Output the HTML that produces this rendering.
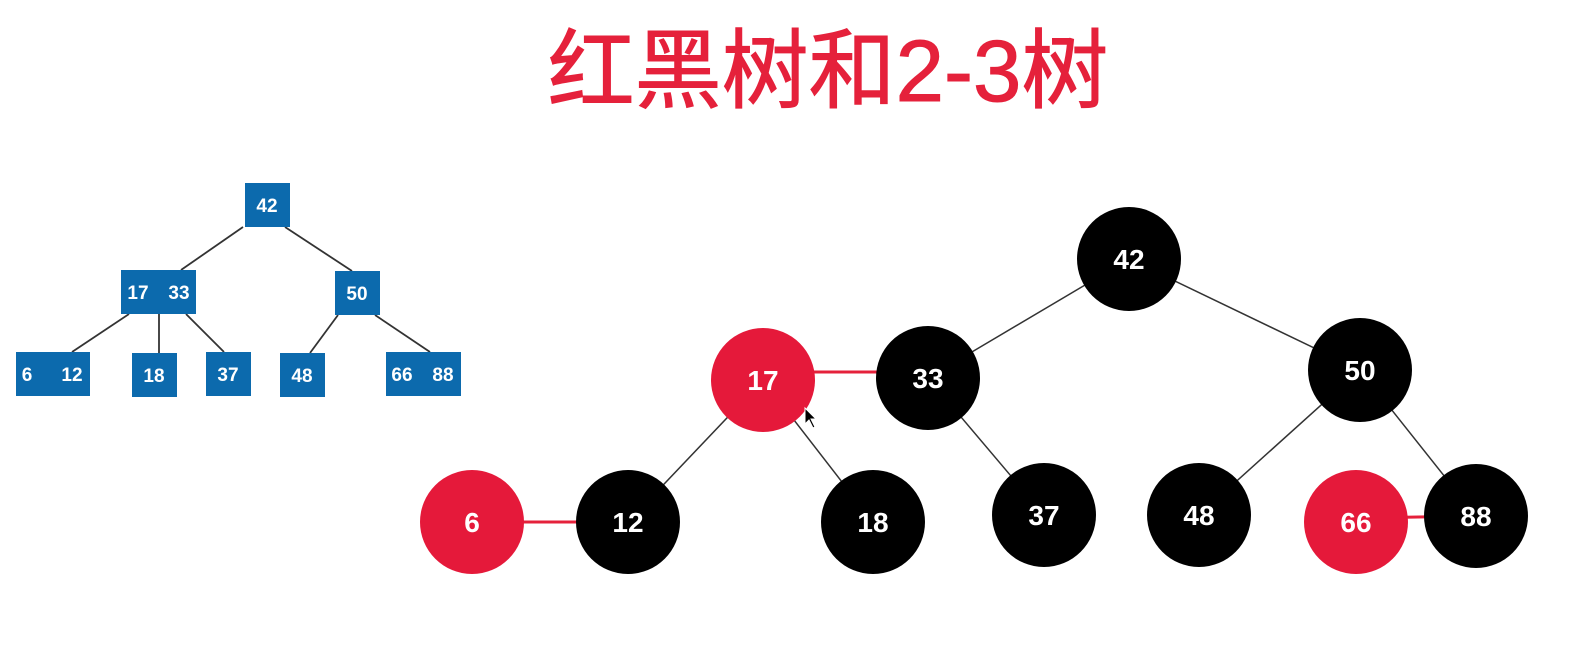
<!DOCTYPE html>
<html><head><meta charset="utf-8"><style>
html,body{margin:0;padding:0;background:#fff;width:1574px;height:655px;overflow:hidden}
.t{position:absolute;left:0;top:22px;width:1656px;text-align:center;font-family:"Liberation Sans","Noto Sans CJK SC",sans-serif;font-size:87px;color:#e5213b;line-height:100px;-webkit-text-stroke:1px #e5213b}
svg{position:absolute;left:0;top:0}
</style></head><body>
<div class="t">红黑树和2-3树</div>
<svg width="1574" height="655" font-family="Liberation Sans, sans-serif" font-weight="bold">
<g stroke="#333" stroke-width="1.8">
<line x1="243" y1="227" x2="181" y2="270"/><line x1="285" y1="227" x2="352" y2="271"/>
<line x1="129" y1="314" x2="72" y2="352"/><line x1="159" y1="314" x2="159" y2="353"/><line x1="186" y1="314" x2="224" y2="352"/>
<line x1="338" y1="315" x2="310" y2="353"/><line x1="375" y1="315" x2="430" y2="352"/>
</g>
<g fill="#0c6aad">
<rect x="245" y="183" width="45" height="44"/><rect x="121" y="270" width="75" height="44"/><rect x="335" y="271" width="45" height="44"/>
<rect x="16" y="352" width="74" height="44"/><rect x="132" y="353" width="45" height="44"/><rect x="206" y="352" width="45" height="44"/>
<rect x="280" y="353" width="45" height="44"/><rect x="386" y="352" width="75" height="44"/>
</g>
<g fill="#fff" font-size="19" text-anchor="middle">
<text x="267" y="212">42</text><text x="138" y="299">17</text><text x="179" y="299">33</text><text x="357" y="300">50</text>
<text x="27" y="381">6</text><text x="72" y="381">12</text><text x="154" y="382">18</text><text x="228" y="381">37</text>
<text x="302" y="382">48</text><text x="402" y="381">66</text><text x="443" y="381">88</text>
</g>
<g stroke="#333" stroke-width="1.5">
<line x1="1129" y1="259" x2="928" y2="378"/><line x1="1129" y1="259" x2="1360" y2="370"/>
<line x1="763" y1="380" x2="628" y2="522"/><line x1="763" y1="380" x2="873" y2="522"/>
<line x1="928" y1="378" x2="1044" y2="515"/>
<line x1="1360" y1="370" x2="1199" y2="515"/><line x1="1360" y1="370" x2="1476" y2="516"/>
</g>
<g stroke="#e5213b" stroke-width="3">
<line x1="763" y1="372" x2="928" y2="372"/><line x1="472" y1="522" x2="628" y2="522"/><line x1="1356" y1="518" x2="1476" y2="516"/>
</g>
<g>
<circle cx="1129" cy="259" r="52" fill="#000"/><circle cx="763" cy="380" r="52" fill="#e5193a"/><circle cx="928" cy="378" r="52" fill="#000"/>
<circle cx="1360" cy="370" r="52" fill="#000"/><circle cx="472" cy="522" r="52" fill="#e5193a"/><circle cx="628" cy="522" r="52" fill="#000"/>
<circle cx="873" cy="522" r="52" fill="#000"/><circle cx="1044" cy="515" r="52" fill="#000"/><circle cx="1199" cy="515" r="52" fill="#000"/>
<circle cx="1356" cy="522" r="52" fill="#e5193a"/><circle cx="1476" cy="516" r="52" fill="#000"/>
</g>
<g fill="#fff" font-size="28" text-anchor="middle">
<text x="1129" y="269">42</text><text x="763" y="390">17</text><text x="928" y="388">33</text><text x="1360" y="380">50</text>
<text x="472" y="532">6</text><text x="628" y="532">12</text><text x="873" y="532">18</text><text x="1044" y="525">37</text>
<text x="1199" y="525">48</text><text x="1356" y="532">66</text><text x="1476" y="526">88</text>
</g>
<path d="M805 408 L805 424 L809 420 L813 428 L815 427 L811 419 L816 419 Z" fill="#000" stroke="#fff" stroke-width="1"/>
</svg>
</body></html>
